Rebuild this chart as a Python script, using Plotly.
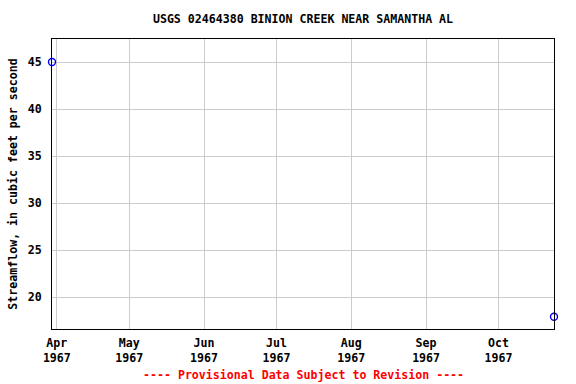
import plotly.graph_objects as go

dates = ["1967-03-30", "1967-10-24"]
flows = [45, 17.9]
tick_dates = ["1967-04-01", "1967-05-01", "1967-06-01", "1967-07-01", "1967-08-01", "1967-09-01", "1967-10-01"]
tick_labels = ["Apr<br>1967", "May<br>1967", "Jun<br>1967", "Jul<br>1967", "Aug<br>1967", "Sep<br>1967", "Oct<br>1967"]
y_ticks = [20, 25, 30, 35, 40, 45]

FONT = "DejaVu Sans Mono"
FS = 11.6

fig = go.Figure()
fig.add_trace(go.Scatter(
    x=dates, y=flows, mode="markers",
    marker=dict(symbol="circle-open", color="blue", size=7, line=dict(width=1.4, color="blue")),
    cliponaxis=False,
))

fig.update_layout(
    width=576, height=384,
    margin=dict(l=52, r=22, t=39, b=55, autoexpand=False),
    paper_bgcolor="white", plot_bgcolor="white",
    showlegend=False,
    font=dict(family=FONT, size=FS, color="black"),
    title=dict(text="<b>USGS 02464380 BINION CREEK NEAR SAMANTHA AL</b>",
               xref="paper", x=0.5, xanchor="center", y=1 - 19 / 384, yanchor="middle",
               font=dict(family=FONT, size=FS)),
    xaxis=dict(
        range=["1967-03-30", "1967-10-24"],
        tickvals=tick_dates, ticktext=["<b>" + t.replace("<br>", "</b><br><b>") + "</b>" for t in tick_labels],
        showgrid=True, gridcolor="#cccccc", gridwidth=1,
        showline=True, linecolor="black", linewidth=1, mirror=True,
        ticks="", tickfont=dict(family=FONT, size=FS), ticklabelstandoff=3,
        zeroline=False, automargin=False,
    ),
    yaxis=dict(
        range=[16.6, 47.45],
        tickvals=y_ticks, ticktext=["<b>%d</b>" % v for v in y_ticks],
        showgrid=True, gridcolor="#cccccc", gridwidth=1,
        showline=True, linecolor="black", linewidth=1, mirror=True,
        ticks="", tickfont=dict(family=FONT, size=FS), ticklabelstandoff=7,
        title=dict(text="<b>Streamflow, in cubic feet per second</b>", font=dict(family=FONT, size=FS), standoff=7),
        zeroline=False, automargin=False,
    ),
)

fig.add_annotation(
    text="<b>---- Provisional Data Subject to Revision ----</b>",
    xref="paper", yref="paper", x=0.5, y=-(375 - 329) / 290, xanchor="center", yanchor="middle",
    showarrow=False, font=dict(family=FONT, size=FS, color="red"),
)

fig.write_html("out.html", config={"displayModeBar": False},
               post_script="document.body.style.margin='0px';")
